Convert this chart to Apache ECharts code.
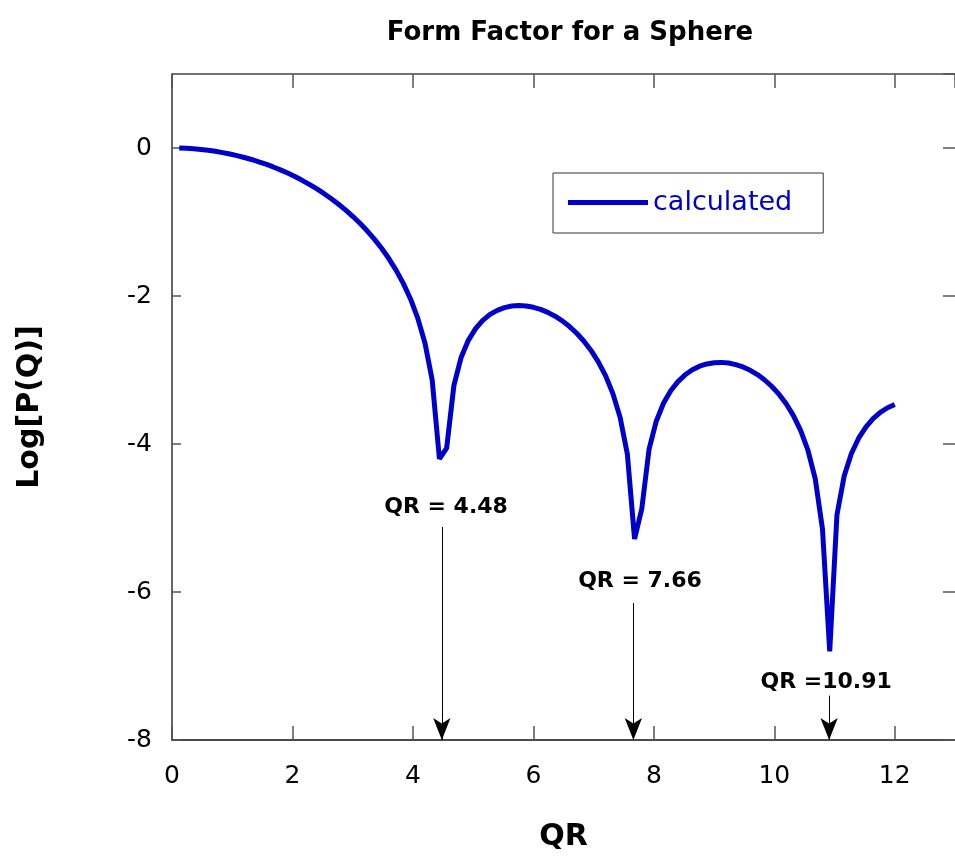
<!DOCTYPE html>
<html>
<head>
<meta charset="utf-8">
<script src="https://cdn.jsdelivr.net/npm/echarts@6/dist/echarts.min.js"></script>
<style>
  html, body { margin: 0; padding: 0; background: #fff; }
  #main { width: 955px; height: 857px; }
</style>
</head>
<body>
<div id="main"></div>
<script>
// QR values and log10 of the sphere form factor
var qr = [
  0.12, 0.24, 0.36, 0.48, 0.60, 0.72, 0.84, 0.96, 1.08, 1.20,
  1.32, 1.44, 1.56, 1.68, 1.80, 1.92, 2.04, 2.16, 2.28, 2.40,
  2.52, 2.64, 2.76, 2.88, 3.00, 3.12, 3.24, 3.36, 3.48, 3.60,
  3.72, 3.84, 3.96, 4.08, 4.20, 4.32, 4.44, 4.56, 4.68, 4.80,
  4.92, 5.04, 5.16, 5.28, 5.40, 5.52, 5.64, 5.76, 5.88, 6.00,
  6.12, 6.24, 6.36, 6.48, 6.60, 6.72, 6.84, 6.96, 7.08, 7.20,
  7.32, 7.44, 7.56, 7.68, 7.80, 7.92, 8.04, 8.16, 8.28, 8.40,
  8.52, 8.64, 8.76, 8.88, 9.00, 9.12, 9.24, 9.36, 9.48, 9.60,
  9.72, 9.84, 9.96, 10.08, 10.20, 10.32, 10.44, 10.56, 10.68, 10.80,
  10.92, 11.04, 11.16, 11.28, 11.40, 11.52, 11.64, 11.76, 11.88, 12.00
];
var logP = [
  -0.001, -0.005, -0.011, -0.020, -0.031, -0.045, -0.062, -0.081, -0.103, -0.128,
  -0.155, -0.186, -0.219, -0.256, -0.296, -0.339, -0.386, -0.437, -0.491, -0.550,
  -0.614, -0.682, -0.756, -0.836, -0.923, -1.017, -1.119, -1.231, -1.355, -1.494,
  -1.650, -1.829, -2.040, -2.299, -2.636, -3.134, -4.201, -4.056, -3.211, -2.831,
  -2.599, -2.441, -2.329, -2.249, -2.194, -2.157, -2.136, -2.129, -2.135, -2.153,
  -2.181, -2.221, -2.273, -2.336, -2.413, -2.503, -2.611, -2.739, -2.893, -3.080,
  -3.319, -3.640, -4.135, -5.283, -4.875, -4.074, -3.692, -3.450, -3.281, -3.157,
  -3.065, -2.997, -2.949, -2.918, -2.901, -2.897, -2.906, -2.927, -2.959, -3.004,
  -3.062, -3.135, -3.223, -3.330, -3.460, -3.620, -3.822, -4.088, -4.470, -5.150,
  -6.801, -4.958, -4.433, -4.129, -3.922, -3.771, -3.658, -3.573, -3.510, -3.465
];

// y tick values (left frame gets inward tick marks at these)
var yTicks = [-8, -6, -4, -2, 0];

// annotations: minima positions, arrow tops, label positions/texts
var minimaQR = [4.48, 7.66, 10.91];
var arrowTop = [-5.12, -6.15, -7.4];
var labelX = [4.55, 7.77, 10.86];
var labelY = [-4.85, -5.86, -7.22];
var labelText = ['QR = 4.48', 'QR = 7.66', 'QR =10.91'];

var font = 'DejaVu Sans';
var blue = '#0000cc';

var curve = [];
for (var i = 0; i < qr.length; i++) curve.push([qr[i], logP[i]]);

var arrows = [];
for (var j = 0; j < minimaQR.length; j++) {
  arrows.push([
    { coord: [minimaQR[j], arrowTop[j]], symbol: 'none' },
    { coord: [minimaQR[j], -8], symbol: 'arrow', symbolSize: [13, 22] }
  ]);
}
var labels = [];
for (var k = 0; k < labelText.length; k++) labels.push([labelX[k], labelY[k], labelText[k]]);

var leftTicks = [];
for (var t = 0; t < yTicks.length; t++) leftTicks.push([0, yTicks[t]]);

var tickStyle = { color: '#555', width: 1.5 };

var myChart = echarts.init(document.getElementById('main'));
var option = {
  animation: false,
  backgroundColor: '#fff',
  title: {
    text: 'Form Factor for a Sphere',
    left: 565,
    top: 15,
    textAlign: 'center',
    textStyle: { fontFamily: font, fontSize: 26, fontWeight: 'bold', color: '#000' }
  },
  legend: {
    data: ['calculated'],
    left: 553,
    top: 173,
    icon: 'rect',
    itemWidth: 80,
    itemHeight: 5,
    padding: [16, 31, 17, 15],
    borderColor: '#333',
    borderWidth: 1,
    textStyle: { fontFamily: font, fontSize: 27, color: blue }
  },
  grid: { left: 172, top: 74, width: 791, height: 671 },
  xAxis: [
    {
      type: 'value', min: 0, max: 13, interval: 2, position: 'bottom',
      name: 'QR', nameLocation: 'middle', nameGap: 82,
      nameTextStyle: { fontFamily: font, fontSize: 30, fontWeight: 'bold', color: '#000' },
      axisLine: { show: true, onZero: false, lineStyle: { color: '#111', width: 1.5 } },
      axisTick: { show: true, inside: true, length: 14, lineStyle: tickStyle },
      axisLabel: { showMaxLabel: false, margin: 24, fontFamily: font, fontSize: 25, color: '#000' },
      splitLine: { show: false }
    },
    {
      type: 'value', min: 0, max: 13, interval: 2, position: 'top',
      axisLine: { show: true, onZero: false, lineStyle: { color: '#444', width: 1.5 } },
      axisTick: { show: true, inside: true, length: 14, lineStyle: tickStyle },
      axisLabel: { show: false },
      splitLine: { show: false }
    }
  ],
  yAxis: [
    {
      type: 'value', min: -8, max: 1, interval: 2, position: 'left',
      name: 'Log[P(Q)]', nameLocation: 'middle', nameGap: 127,
      nameTextStyle: { fontFamily: font, fontSize: 30, fontWeight: 'bold', color: '#000' },
      axisLine: { show: true, onZero: false, lineStyle: { color: '#333', width: 1.5 } },
      axisTick: { show: false },
      axisLabel: { showMaxLabel: false, margin: 20, fontFamily: font, fontSize: 25, color: '#000' },
      splitLine: { show: false }
    },
    {
      type: 'value', min: -8, max: 1, interval: 2, position: 'right',
      axisLine: { show: true, onZero: false, lineStyle: { color: '#444', width: 1 } },
      axisTick: { show: true, inside: true, length: 12, lineStyle: tickStyle },
      axisLabel: { show: false },
      splitLine: { show: false }
    }
  ],
  series: [
    {
      name: 'calculated',
      type: 'line',
      data: curve,
      symbol: 'none',
      color: blue,
      lineStyle: { color: blue, width: 5 },
      markLine: {
        silent: true,
        symbol: ['none', 'arrow'],
        symbolSize: [13, 22],
        label: { show: false },
        lineStyle: { color: '#000', width: 1, type: 'solid' },
        data: arrows
      }
    },
    {
      name: 'notes',
      type: 'scatter',
      data: labels,
      symbolSize: 0,
      silent: true,
      itemStyle: { opacity: 1 },
      label: {
        show: true,
        position: 'inside',
        formatter: function (p) { return p.data[2]; },
        fontFamily: font,
        fontSize: 22,
        fontWeight: 'bold',
        color: '#000',
        opacity: 1
      }
    },
    {
      // inward tick marks on the left frame, placed through the y scale
      name: 'leftTicks',
      type: 'custom',
      data: leftTicks,
      silent: true,
      clip: false,
      renderItem: function (params, api) {
        var p = api.coord([api.value(0), api.value(1)]);
        return {
          type: 'line',
          shape: { x1: p[0], y1: p[1], x2: p[0] + 9, y2: p[1] },
          style: { stroke: '#555', lineWidth: 1.5 }
        };
      }
    }
  ]
};
myChart.setOption(option);
</script>
</body>
</html>
